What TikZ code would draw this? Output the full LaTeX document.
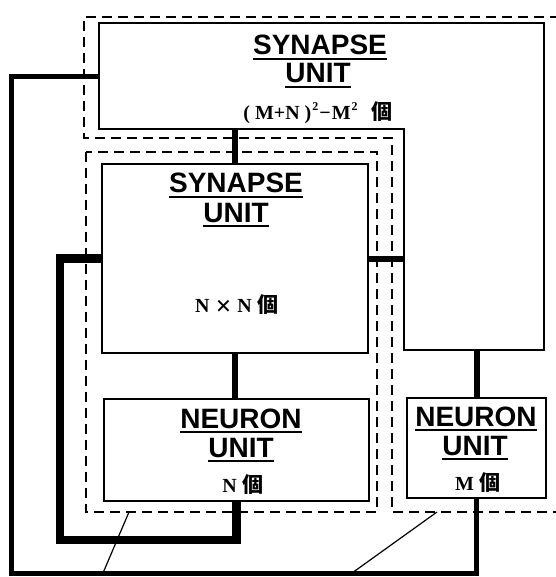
\documentclass[tikz,border=0pt]{standalone}
\usepackage{fontspec}
\setmainfont{Liberation Sans}
\newfontfamily\cjk{Noto Sans CJK JP}
\newfontfamily\numfont{Liberation Serif}
\usetikzlibrary{positioning}
% word with a heavy underline
\newcommand{\ulword}[1]{\vtop{\hbox{#1}\kern3pt\hrule height 2pt}}
\newcommand{\ko}{{\cjk\fontsize{21}{21}\selectfont 個}}
\newcommand{\sq}{\raisebox{9pt}{\fontsize{12}{12}\selectfont 2}}

\begin{document}
\begin{tikzpicture}[
    x=1pt, y=-1pt,
    unitbox/.style={draw, line width=2.4pt, anchor=north west, inner sep=0pt, fill=white},
    bus/.style={line width=6pt},
    nloop/.style={line width=8.5pt, line join=miter},
    mloop/.style={line width=5pt, line join=miter},
    region/.style={dash pattern=on 10pt off 6pt, line width=1.3pt},
    leader/.style={line width=1.2pt},
    title/.style={font=\bfseries\fontsize{28}{28}\selectfont, anchor=base, inner sep=0pt},
    count/.style={font=\numfont\bfseries\fontsize{20}{20}\selectfont, anchor=base, inner sep=0pt}
]
\useasboundingbox (0,0) rectangle (555,577);

% dashed regions
\draw[region] (560,17) -- (84,17) -- (84,138) -- (392,138) -- (392,512) -- (560,512);
\draw[region] (86,152) rectangle (377,512);

% (M+N)^2-M^2 synapse unit
\coordinate (bigTL) at (99,23);
\coordinate (bigTR) at (544,23);
\coordinate (bigBR) at (544,350);
\coordinate (notchB) at (404,350);
\coordinate (notchT) at (404,129);
\coordinate (bigBL) at (99,129);
\coordinate (fbIn) at (99,77);
\draw[line width=2.4pt, fill=white] (bigTL) -- (bigTR) -- (bigBR) -- (notchB) -- (notchT) -- (bigBL) -- cycle;

\node[unitbox, minimum width=266pt, minimum height=189pt] (synN) at (101,163) {};
\node[unitbox, minimum width=265pt, minimum height=102pt] (neuN) at (103,398) {};
\node[unitbox, minimum width=139pt, minimum height=100pt] (neuM) at (406,397) {};

% connections
\draw[bus] (synN.north) -- (synN.north |- bigBL);
\draw[bus] (synN.east) -- (synN.east -| notchT);
\draw[bus] (synN.south) -- (synN.south |- neuN.north);
\draw[bus] (neuM.north) -- (neuM.north |- bigBR);

\coordinate (nCorner) at (60,540);
\coordinate (mCorner) at (11,573);
\draw[nloop] (synN.west) -| (nCorner) -| (neuN.south);
\draw[mloop] (fbIn) -| (mCorner) -| (neuM.south);

\coordinate (leadA) at (129,512);
\coordinate (leadAend) at (103,573);
\coordinate (leadB) at (437,512);
\coordinate (leadBend) at (352,573);
\draw[leader] (leadA) -- (leadAend);
\draw[leader] (leadB) -- (leadBend);

% labels
\node[title] (bigT1) at (320,55) {\ulword{SYNAPSE}};
\node[title] (bigT2) at (318,83) {\ulword{UNIT}};
\node[count] (bigNum) at (318,120) {(\kern5pt M+N\kern5pt)\kern1pt\sq\kern1pt−\kern1pt M\kern1pt\sq\kern14pt\ko};

\node[title] (synT1) at (236,193) {\ulword{SYNAPSE}};
\node[title] (synT2) at (236,222) {\ulword{UNIT}};
\node[count] (synNum) at (237,312) {N\kern6pt\raisebox{-3pt}{\fontsize{28}{28}\selectfont ×}\kern6pt N\kern6pt\ko};

\node[title] (neuNT1) at (241,428) {\ulword{NEURON}};
\node[title] (neuNT2) at (241,457) {\ulword{UNIT}};
\node[count] (neuNNum) at (243,492) {N\kern6pt\ko};

\node[title] (neuMT1) at (476,426) {\ulword{NEURON}};
\node[title] (neuMT2) at (475,455) {\ulword{UNIT}};
\node[count] (neuMNum) at (478,490) {M\kern6pt\ko};
\end{tikzpicture}
\end{document}
